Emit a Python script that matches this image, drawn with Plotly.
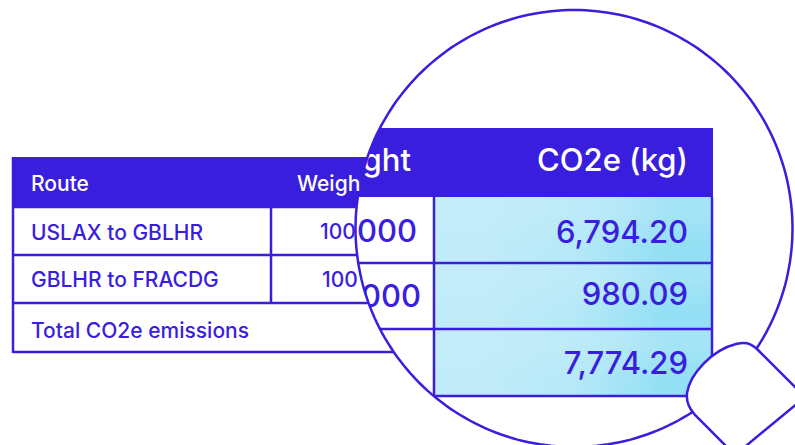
import numpy as np
import plotly.graph_objects as go

# ---- table contents ----
small_headers = ["Route", "Weigh"]
routes = ["USLAX to GBLHR", "GBLHR to FRACDG"]
total_label = "Total CO2e emissions"
small_weights = ["100", "100"]
big_headers = ["Weight", "CO2e (kg)"]
big_weights = ["000", "000"]
co2e_values = ["6,794.20", "980.09", "7,774.29"]
cell_shades = [[0.05, 0.25, 0.75], [0.15, 0.5, 1.0]]

INK = "#3A1EDD"
FONT = "Inter"
W, H = 795, 445
CX, CY, R = 574, 228.5, 218.5


def xl(y):
    return CX - np.sqrt(R**2 - (y - CY) ** 2)


def poly(pts):
    return "M" + " L".join(f"{x:.1f},{y:.1f}" for x, y in pts) + " Z"


def arc_left(y0, y1, n=24):
    return [(xl(y), y) for y in np.linspace(y0, y1, n)]


t = np.linspace(0, 2 * np.pi, 240, endpoint=False)
circle_pts = list(zip(CX + R * np.cos(t), CY + R * np.sin(t)))

fig = go.Figure()

# big table: gradient cells
row_edges = [197, 263, 329, 396]
for i in range(3):
    fig.add_trace(go.Heatmap(
        x=[434, 523, 618, 712], y=[row_edges[i], (row_edges[i] + row_edges[i + 1]) / 2, row_edges[i + 1]],
        z=cell_shades, zmin=0, zmax=1, zsmooth="best", showscale=False, hoverinfo="skip",
        colorscale=[[0, "#C6ECF9"], [0.5, "#B6E9F8"], [1, "#93DFF4"]],
    ))

# big table text
fig.add_trace(go.Scatter(
    x=[411, 688] + [417, 421] + [688, 688, 688],
    y=[163, 163, 234, 299, 235, 297, 366],
    text=big_headers + big_weights + co2e_values,
    mode="text", textposition="middle left", hoverinfo="skip", showlegend=False,
    textfont=dict(family=FONT, size=31, weight=500,
                  color=["#FFFFFF", "#FFFFFF"] + [INK] * 5),
))

shapes = []
LW = 2.5


def seg(x0, y0, x1, y1, w=LW):
    shapes.append(dict(type="line", x0=x0, y0=y0, x1=x1, y1=y1, layer="above",
                       line=dict(color=INK, width=w)))


# big table header and lines (below text)
shapes.append(dict(type="rect", x0=340, y0=128, x1=713, y1=197, fillcolor=INK,
                   line=dict(width=0), layer="below"))
for y in row_edges[1:]:
    seg(340, y, 713, y)
seg(434, 197, 434, 396)
seg(712, 197, 712, 396)

# white mask outside the lens
outer = [(-5, -5), (W + 5, -5), (W + 5, H + 5), (-5, H + 5)]
shapes.append(dict(type="path", path=poly(outer) + " " + poly(circle_pts),
                   fillcolor="#FFFFFF", line=dict(width=0), layer="above"))

# lens outline
shapes.append(dict(type="path", path=poly(circle_pts), fillcolor="rgba(0,0,0,0)",
                   line=dict(color=INK, width=LW), layer="above"))

# small table, clipped to the outside of the lens
header = [(13, 157)] + arc_left(157, 207) + [(13, 207)]
shapes.append(dict(type="path", path=poly(header), fillcolor=INK,
                   line=dict(width=0), layer="above"))
for y in [207, 255, 303, 352]:
    seg(13, y, xl(y), y)
seg(13, 157, 13, 353)
seg(271, 207, 271, 303)

# magnifier handle
shapes.append(dict(
    type="path",
    path="M 805,397 L 758,350 C 750,342 744,342 736,344 C 712,350 690,374 687,393 "
         "C 686,403 690,409 695,415 L 735,455 Z",
    fillcolor="#FFFFFF", line=dict(color=INK, width=LW), layer="above"))

# small table text sits on top
annotations = []


def label(x, y, s, color, size=21):
    annotations.append(dict(x=x, y=y, text=s, showarrow=False, xanchor="left", yanchor="middle",
                            font=dict(family=FONT, size=size, color=color, weight=500)))


label(29, 183, small_headers[0], "#FFFFFF")
label(295, 183, small_headers[1], "#FFFFFF")
label(29, 232, routes[0], INK)
label(29, 279, routes[1], INK)
label(29, 330, total_label, INK)
label(318, 231, small_weights[0], INK)
label(320, 279, small_weights[1], INK)

fig.update_layout(
    width=W, height=H, margin=dict(l=0, r=0, t=0, b=0),
    paper_bgcolor="#FFFFFF", plot_bgcolor="#FFFFFF", showlegend=False,
    xaxis=dict(range=[0, W], visible=False, fixedrange=True),
    yaxis=dict(range=[H, 0], visible=False, fixedrange=True),
    shapes=shapes, annotations=annotations,
)
fig.write_html("out.html", config={"displayModeBar": False},
               post_script="document.body.style.margin='0';document.documentElement.style.overflow='hidden';")
